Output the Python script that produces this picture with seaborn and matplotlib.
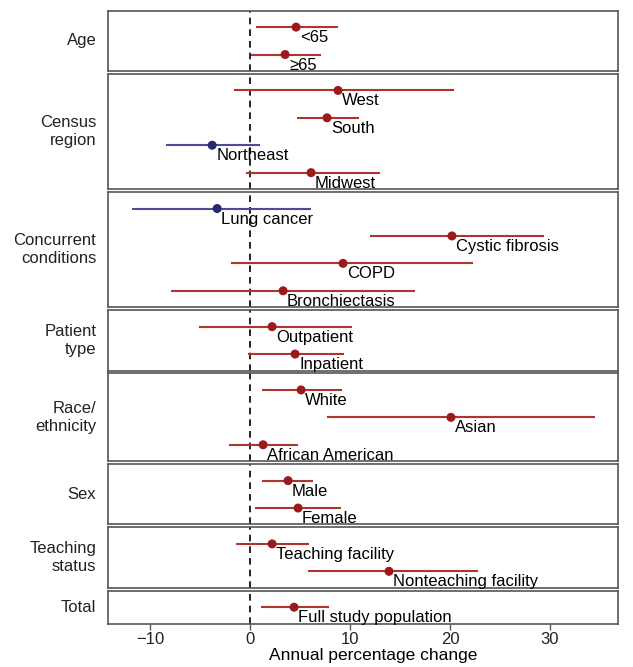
import matplotlib
matplotlib.use("Agg")
import matplotlib.pyplot as plt
import numpy as np
import pandas as pd
import seaborn as sns

# grupos (panel) y subgrupos, de arriba hacia abajo
grupos = ["Age", "Census\nregion", "Concurrent\nconditions", "Patient\ntype",
          "Race/\nethnicity", "Sex", "Teaching\nstatus", "Total"]
subgrupos = [
    ["<65", "\u226565"],
    ["West", "South", "Northeast", "Midwest"],
    ["Lung cancer", "Cystic fibrosis", "COPD", "Bronchiectasis"],
    ["Outpatient", "Inpatient"],
    ["White", "Asian", "African American"],
    ["Male", "Female"],
    ["Teaching facility", "Nonteaching facility"],
    ["Full study population"],
]
estimacion = [
    [4.6, 3.5],
    [8.8, 7.7, -3.8, 6.1],
    [-3.3, 20.2, 9.3, 3.3],
    [2.2, 4.5],
    [5.1, 20.1, 1.3],
    [3.8, 4.8],
    [2.2, 13.9],
    [4.4],
]
ic_inf = [
    [0.6, 0.1],
    [-1.6, 4.7, -8.4, -0.4],
    [-11.8, 12.0, -1.9, -7.9],
    [-5.1, -0.2],
    [1.2, 7.7, -2.1],
    [1.2, 0.5],
    [-1.4, 5.8],
    [1.1],
]
ic_sup = [
    [8.8, 7.1],
    [20.4, 10.9, 1.0, 13.0],
    [6.1, 29.4, 22.3, 16.5],
    [10.2, 9.4],
    [9.2, 34.5, 4.8],
    [6.3, 9.1],
    [5.9, 22.8],
    [7.9],
]

filas = []
for g, subs, est, lo, hi in zip(grupos, subgrupos, estimacion, ic_inf, ic_sup):
    for i, s in enumerate(subs):
        filas.append({"grupo": g, "sub": s, "pos": i + 1, "est": est[i],
                      "lo": lo[i], "hi": hi[i],
                      "signo": "neg" if est[i] < 0 else "pos"})
df = pd.DataFrame(filas)

sns.set_theme(style="white")
plt.rcParams["font.family"] = ["Liberation Sans", "DejaVu Sans"]

col_punto = {"pos": "#9a1a1e", "neg": "#27286e"}
col_linea = {"pos": "#b0332f", "neg": "#4c4c98"}

alturas = [len(s) + 0.2 for s in subgrupos]
fig, axes = plt.subplots(len(grupos), 1, figsize=(6.33, 6.67), dpi=100, sharex=True,
                         gridspec_kw={"height_ratios": alturas, "hspace": 0.04})
fig.subplots_adjust(left=0.171, right=0.976, top=0.984, bottom=0.065)

for ax, g in zip(axes, grupos):
    d = df[df["grupo"] == g]
    n = len(d)
    ax.axvline(0, color="black", lw=1.2, ls=(0, (4, 3)), zorder=1)
    for _, r in d.iterrows():
        ax.hlines(r["pos"], r["lo"], r["hi"], color=col_linea[r["signo"]], lw=1.5, zorder=2)
        ax.annotate(r["sub"], xy=(r["est"], r["pos"]), xytext=(4, -3),
                    textcoords="offset pixels", ha="left", va="top", fontsize=12,
                    color="black", zorder=4)
    sns.scatterplot(data=d, x="est", y="pos", hue="signo", palette=col_punto, s=42,
                    edgecolor="none", legend=False, ax=ax, zorder=3)
    ax.set_ylim(n + 0.6, 0.4)
    ax.set_xlim(-14.2, 36.8)
    ax.set_yticks([])
    ax.set_ylabel("")
    ax.set_xlabel("")
    for sp in ax.spines.values():
        sp.set_color("#555555")
        sp.set_linewidth(1.2)
    ax.annotate(g, xy=(0, 0.5), xycoords="axes fraction", xytext=(-12, 0),
                textcoords="offset pixels", ha="right", va="center",
                multialignment="right", fontsize=12, color="#222222")
    ax.tick_params(axis="x", length=0)

ax = axes[-1]
ax.set_xticks([-10, 0, 10, 20, 30])
ax.tick_params(axis="x", length=4, width=1, color="#555555", labelsize=12,
               labelcolor="#222222", bottom=True, pad=2)
ax.set_xlabel("Annual percentage change", fontsize=12.5, color="black")
ax.xaxis.set_label_coords(0.52, -0.74)

fig.savefig("out.png", dpi=100)
